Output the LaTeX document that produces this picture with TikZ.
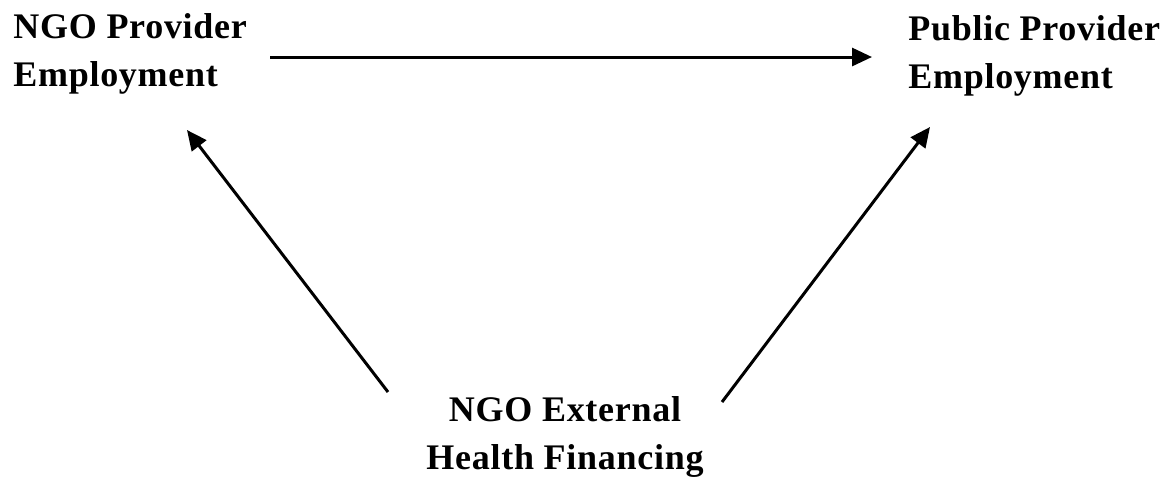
\documentclass[tikz,border=0pt]{standalone}
\usepackage{fontspec}
\setmainfont{Liberation Serif}
\usepackage{tikz}
\usetikzlibrary{arrows.meta}

\begin{document}
\begin{tikzpicture}[
	x=0.5pt, y=-0.5pt,
	label text/.style = {inner sep=0pt, font=\fontsize{18}{24}\selectfont\bfseries\addfontfeatures{LetterSpace=2}},
	flow/.style = {line width=1.5pt, -{Triangle[length=10pt, width=9pt]}}
	]
	\useasboundingbox (0,0) rectangle (1162,479);
	\node [label text, align=left, anchor=north west] (provider) at (13,13) {NGO Provider\\Employment};
	\node [label text, align=left, anchor=north west] (public) at (908,15) {Public Provider\\Employment};
	\node [label text, align=center, anchor=north] (financing) at (565,396) {NGO External\\Health Financing};
	\draw [flow] ([shift={(257,44)}]provider.north west) -- ([shift={(-36,42)}]public.north west);
	\draw [flow] ([shift={(-177,-4)}]financing.north) -- ([shift={(174,117)}]provider.north west);
	\draw [flow] ([shift={(157,6)}]financing.north) -- ([shift={(22,112)}]public.north west);
\end{tikzpicture}
\end{document}
